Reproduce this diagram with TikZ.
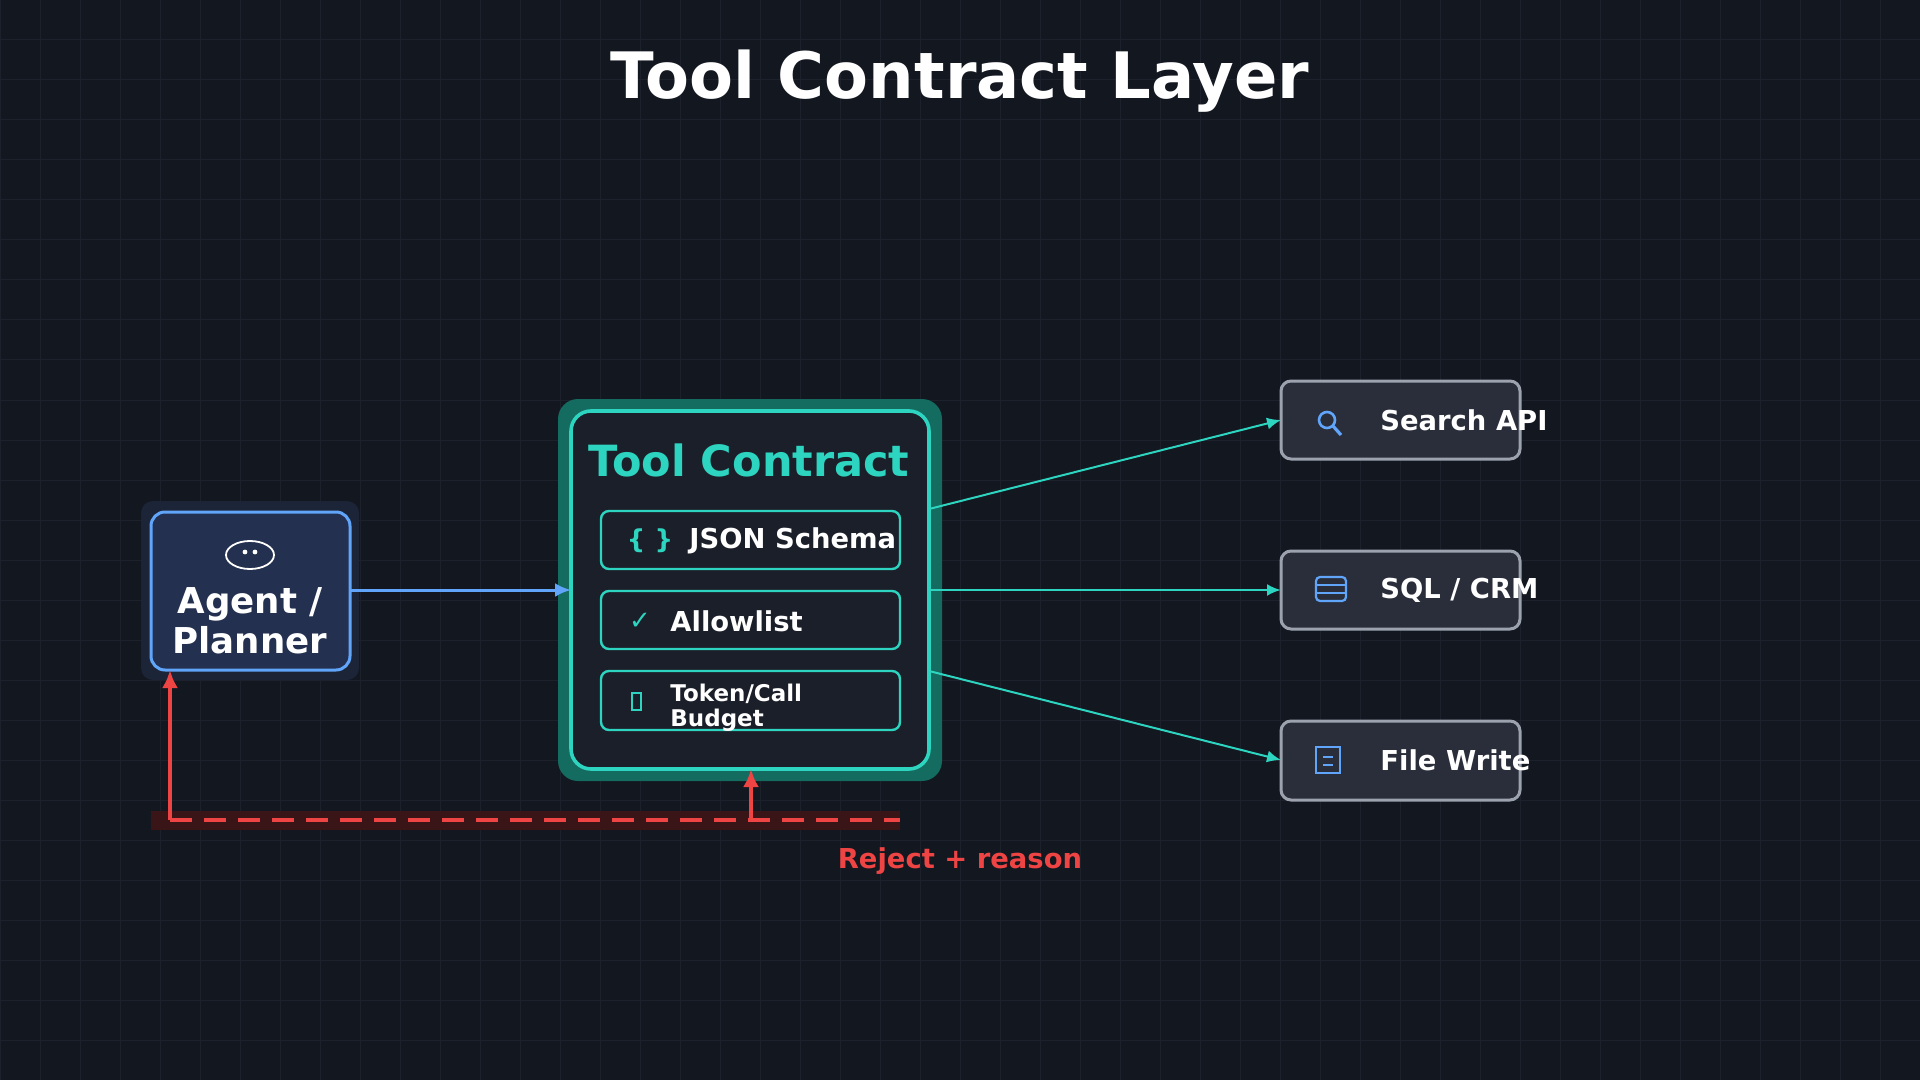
\documentclass[tikz,border=0pt]{standalone}
\usepackage{fontspec}
\setmainfont{DejaVu Sans}
\usetikzlibrary{arrows.meta}
\definecolor{bg}{HTML}{131720}
\definecolor{gridc}{HTML}{1C212C}
\definecolor{teal}{HTML}{2DD4BF}
\definecolor{tealdk}{HTML}{146B5F}
\definecolor{panel}{HTML}{1B1F29}
\definecolor{agfill}{HTML}{23304F}
\definecolor{agline}{HTML}{60A5FA}
\definecolor{agout}{HTML}{1C2538}
\definecolor{tfill}{HTML}{2A2E3A}
\definecolor{tline}{HTML}{9CA3AF}
\definecolor{redc}{HTML}{EF4444}
\definecolor{redbg}{HTML}{3A1518}
\begin{document}
\begin{tikzpicture}[x=0.5pt,y=-0.5pt,
  sub/.style={draw=teal,line width=1.2pt,fill=panel,rounded corners=4pt},
  tool/.style={draw=tline,line width=1.5pt,fill=tfill,rounded corners=5pt},
  lbl/.style={text=white,font=\bfseries\fontsize{13.7}{15}\selectfont,anchor=west,inner sep=0},
  tarr/.style={draw=teal,line width=1pt,-{Latex[length=7pt,width=6pt]}},
  rarr/.style={draw=redc,line width=1.9pt,-{Latex[length=9pt,width=8pt]}}]
\useasboundingbox (0,0) rectangle (1920,1080);
\fill[bg] (0,0) rectangle (1920,1080);
\foreach \i in {0,40,...,1920} \draw[gridc,line width=0.5pt] (\i,0) -- (\i,1080);
\foreach \j in {0,40,...,1080} \draw[gridc,line width=0.5pt] (0,\j) -- (1920,\j);
\node[text=white,font=\bfseries\fontsize{32}{36}\selectfont] (title) at (960,81) {Tool Contract Layer};
% agent
\fill[agout,rounded corners=6pt] (141,501) rectangle (359,680);
\draw[agline,fill=agfill,line width=1.5pt,rounded corners=7pt] (151,512) rectangle (350,670);
\coordinate (agent) at (250,591);
\draw[white,line width=0.9pt] (250,555) ellipse [x radius=24,y radius=14];
\fill[white] (245,552) circle (2.4) (255,552) circle (2.4);
\node[text=white,font=\bfseries\fontsize{17.8}{20}\selectfont,align=center] (agtext) at (250,621) {Agent /\\Planner};
% contract
\fill[tealdk,rounded corners=10pt] (558,399) rectangle (942,781);
\draw[teal,fill=panel,line width=1.8pt,rounded corners=10pt] (571,411) rectangle (929,769);
\node[text=teal,font=\bfseries\fontsize{21.5}{24}\selectfont] (ctitle) at (749,460) {Tool Contract};
\draw[sub] (601,511) rectangle (900,569);
\draw[sub] (601,591) rectangle (900,649);
\draw[sub] (601,671) rectangle (900,730);
\node[text=teal,font=\bfseries\fontsize{13}{15}\selectfont] (br) at (650,541) {\{ \}};
\node[lbl] (json) at (689,541) {JSON Schema};
\node[text=teal,font=\fontsize{13}{15}\selectfont] (chk) at (640,621) {✓};
\node[lbl] (allow) at (670,621) {Allowlist};
\draw[teal,line width=0.6pt] (632,693) rectangle (641,710);
\node[lbl,font=\bfseries\fontsize{11.5}{12.5}\selectfont,align=left] (tok) at (670,708) {Token/Call\\Budget};
% tools
\draw[tool] (1281,381) rectangle (1520,459);
\draw[tool] (1281,551) rectangle (1520,629);
\draw[tool] (1281,721) rectangle (1520,800);
\node[lbl] (s) at (1380,420) {Search API};
\node[lbl] (q) at (1380,590) {SQL / CRM};
\node[lbl] (f) at (1380,760) {File Write};
\draw[agline,line width=1.3pt] (1327,420) circle (8);
\draw[agline,line width=1.6pt] (1333,426) -- (1341,435);
\draw[agline,line width=1.1pt,rounded corners=2pt] (1316,577) rectangle (1346,601);
\draw[agline,line width=1.1pt] (1316,585) -- (1346,585) (1316,593) -- (1346,593);
\draw[agline,line width=1.1pt] (1316,747) rectangle (1340,773) (1323,757) -- (1333,757) (1323,765) -- (1333,765);
% connectors
\coordinate (cin) at (571,590);
\draw[agline,line width=1.5pt,-{Latex[length=8pt,width=7pt]}] (350,590) -- (cin);
\draw[tarr] (929,509) -- (1281,420);
\draw[tarr,line width=1.3pt] (929,590) -- (1281,590);
\draw[tarr] (929,671) -- (1281,760);
% reject
\fill[redbg] (151,811) rectangle (900,830);
\draw[redc,line width=1.9pt,dash pattern=on 11pt off 6pt] (170,820) -- (900,820);
\draw[rarr] (170,820) -- (170,670);
\draw[rarr] (751,820) -- (751,769);
\node[text=redc,font=\bfseries\fontsize{13.7}{15}\selectfont] (rej) at (960,861) {Reject + reason};
\end{tikzpicture}
\end{document}
